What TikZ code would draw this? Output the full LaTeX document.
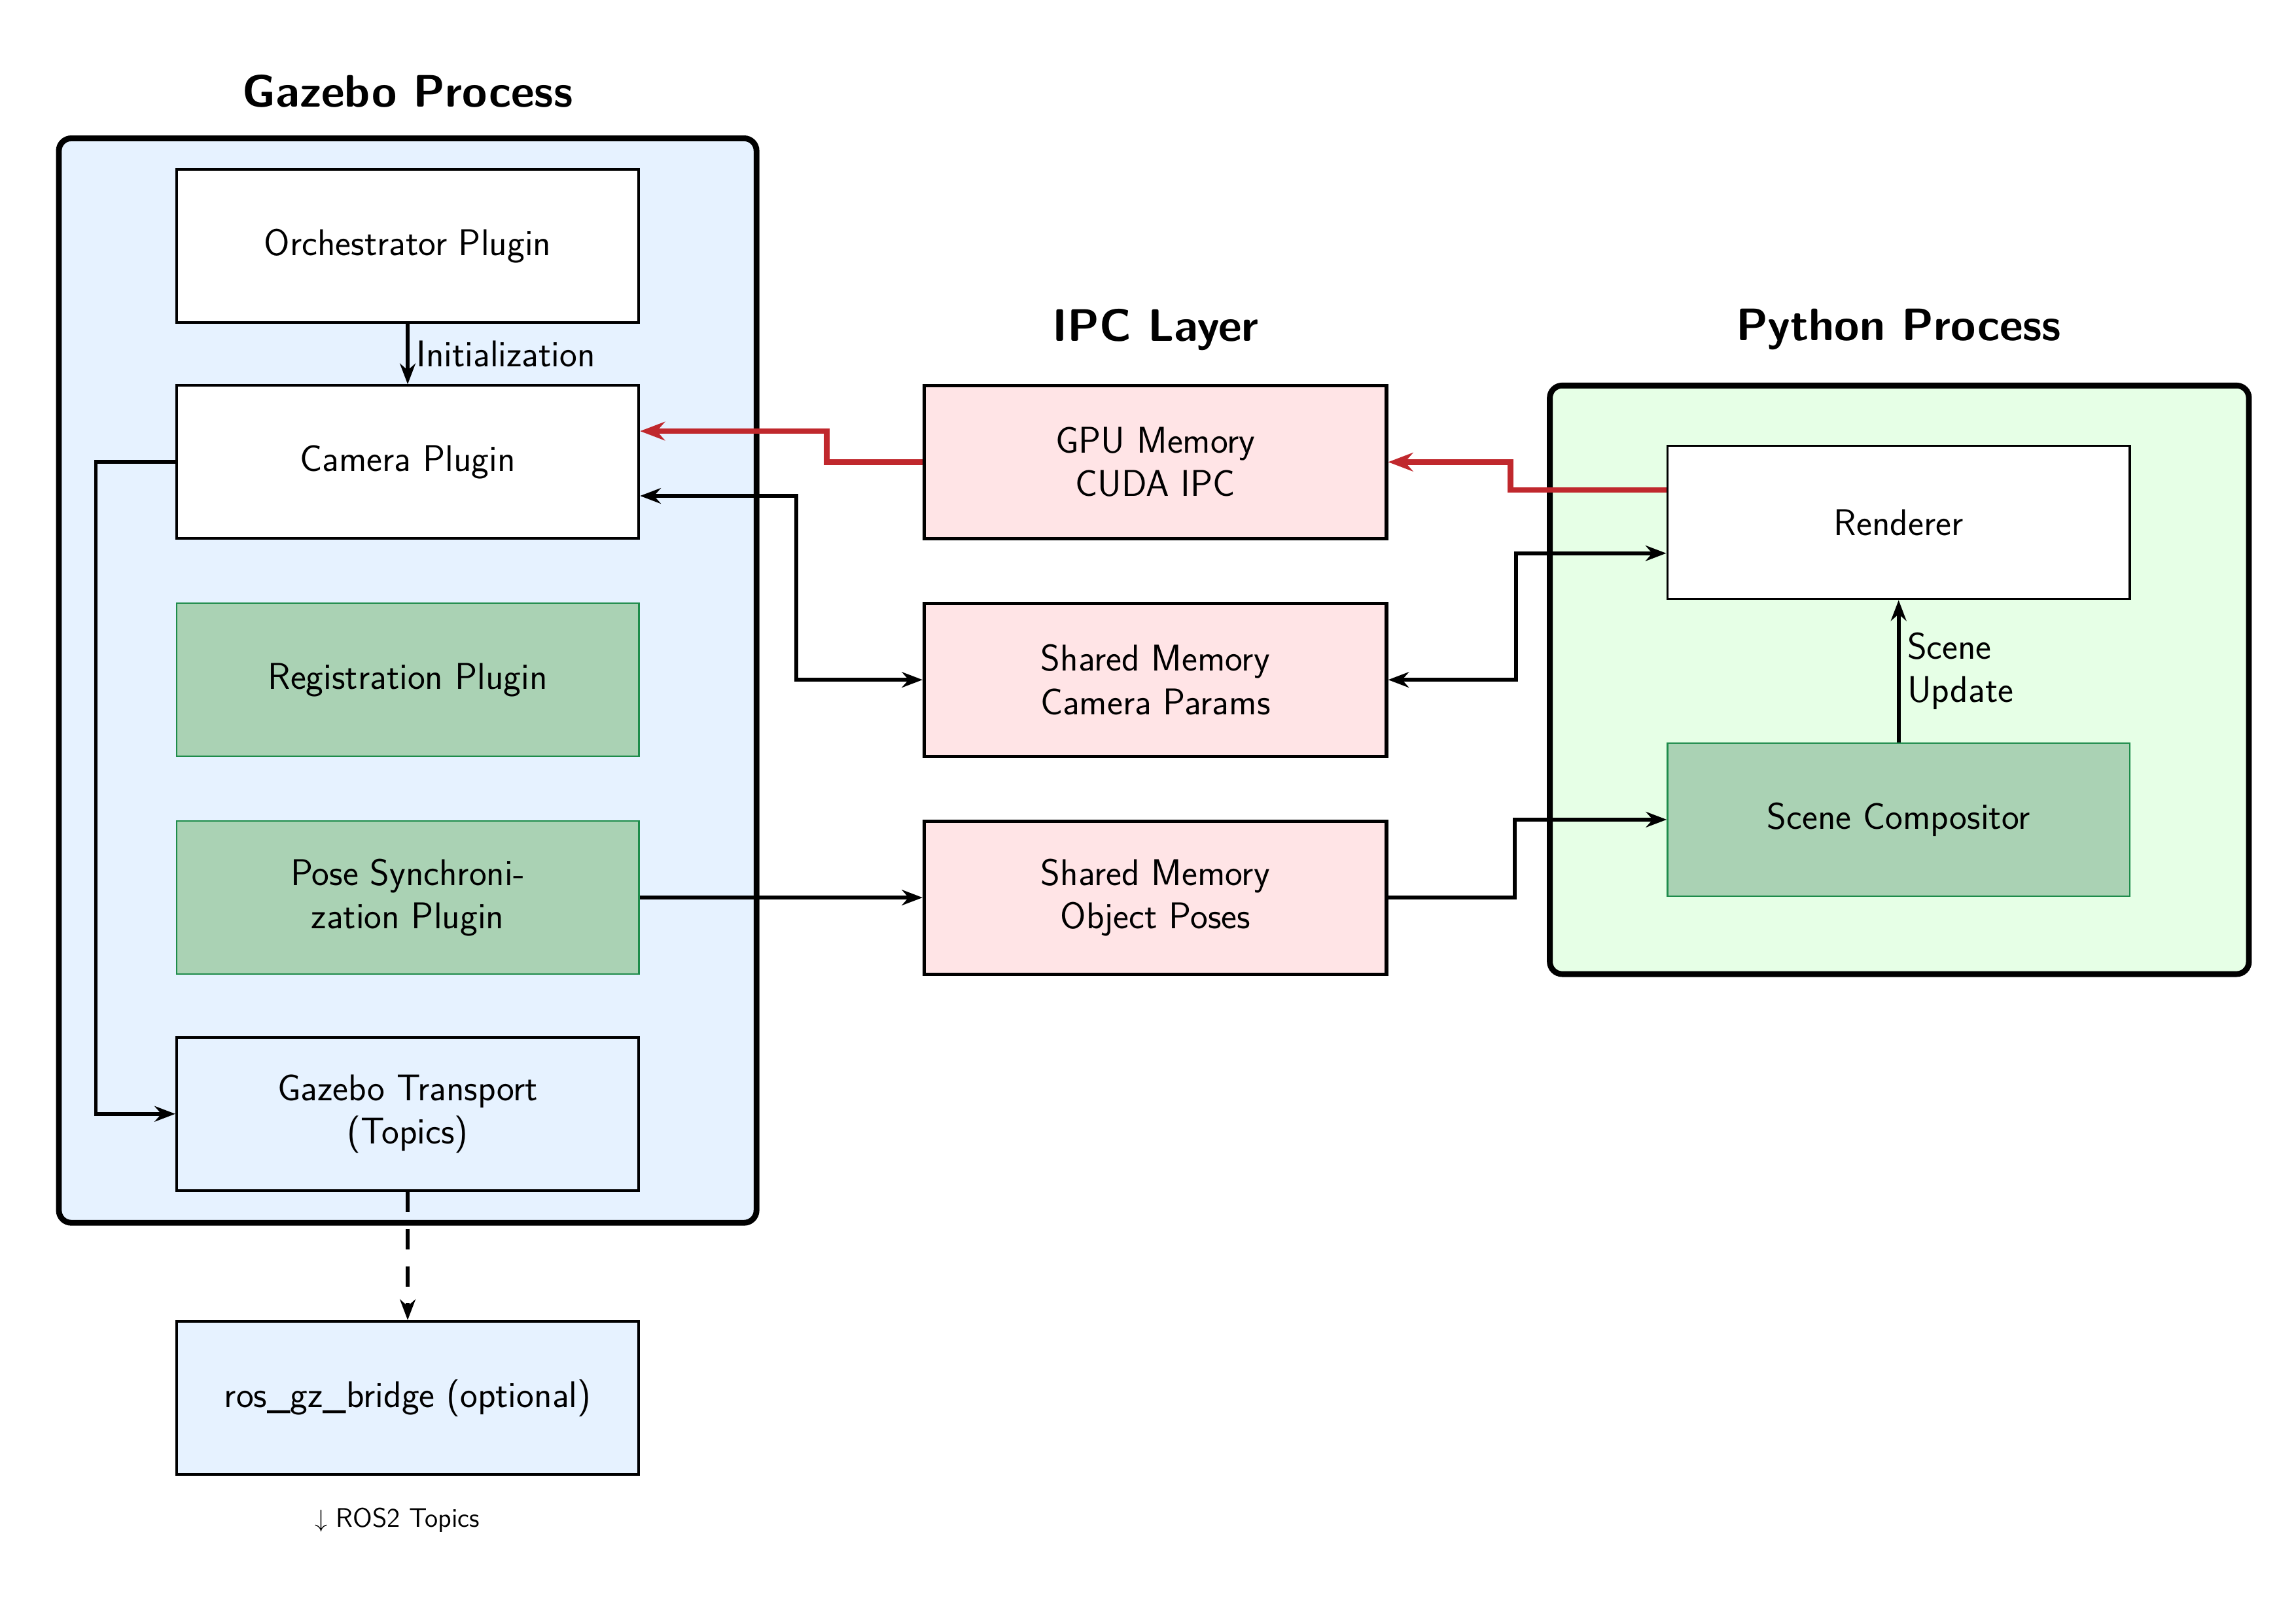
\documentclass[tikz,border=0pt]{standalone}
\usetikzlibrary{arrows.meta}
\definecolor{gzfill}{HTML}{E6F2FF}
\definecolor{pyfill}{HTML}{E6FFE6}
\definecolor{plugfill}{HTML}{AAD2B4}
\definecolor{plugline}{HTML}{1E8C4B}
\definecolor{ipcfill}{HTML}{FFE4E6}
\definecolor{gpured}{HTML}{C0282D}
\tikzset{
  box/.style={draw, line width=1.2pt, minimum width=7.85cm, minimum height=2.6cm,
    align=center, font=\sffamily\fontsize{18}{21}\selectfont},
  plug/.style={box, fill=plugfill, draw=plugline, line width=0.8pt},
  ipc/.style={box, fill=ipcfill, line width=1.6pt},
  frame/.style={draw, line width=2.8pt, rounded corners=6pt},
  title/.style={font=\sffamily\bfseries\fontsize{22}{26}\selectfont},
  link/.style={-{Stealth[length=10pt]}, line width=1.8pt},
  twoway/.style={{Stealth[length=10pt]}-{Stealth[length=10pt]}, line width=1.8pt},
  gpu/.style={-{Stealth[length=12pt]}, line width=2.8pt, gpured}
}
\begin{document}
\begin{tikzpicture}[x=0.025cm,y=-0.025cm]
\useasboundingbox (0,0) rectangle (1560,1090);
% frames
\draw[frame, fill=gzfill] (40,94) rectangle (514,831);
\draw[frame, fill=pyfill] (1053,262) rectangle (1528,662);
\node[title] (gztitle) at (277,62) {Gazebo Process};
\node[title] (ipctitle) at (785,224) {IPC Layer};
\node[title] (pytitle) at (1290,224) {Python Process};
% Gazebo side
\node[box, fill=white] (orch) at (277,167) {Orchestrator Plugin};
\node[box, fill=white] (cam) at (277,314) {Camera Plugin};
\node[plug] (reg) at (277,462) {Registration Plugin};
\node[plug] (pose) at (277,610) {Pose Synchroni-\\zation Plugin};
\node[box, fill=gzfill] (transport) at (277,757) {Gazebo Transport\\(Topics)};
\node[box, fill=gzfill] (bridge) at (277,950) {ros\_gz\_bridge (optional)};
\node[font=\sffamily\fontsize{13}{15}\selectfont] (rostopics) at (270,1033) {$\downarrow$ ROS2 Topics};
% IPC layer
\node[ipc] (gpumem) at (785,314) {GPU Memory\\CUDA IPC};
\node[ipc] (shmcam) at (785,462) {Shared Memory\\Camera Params};
\node[ipc] (shmobj) at (785,610) {Shared Memory\\Object Poses};
% Python side
\node[box, fill=white] (render) at (1290,355) {Renderer};
\node[plug] (compos) at (1290,557) {Scene Compositor};
% connectors
\draw[link] (orch) -- node[right, font=\sffamily\fontsize{18}{21}\selectfont] {Initialization} (cam);
\draw[link] (cam.west) -- ++(-54,0) |- (transport.west);
\draw[gpu] (gpumem.west) -- ++(-65,0) |- ([yshift=0.525cm]cam.east);
\draw[gpu] ([yshift=0.55cm]render.west) -- ++(-106,0) |- (gpumem.east);
\draw[twoway] ([yshift=-0.575cm]cam.east) -- ++(106,0) |- (shmcam.west);
\draw[twoway] ([yshift=-0.525cm]render.west) -- ++(-102,0) |- (shmcam.east);
\draw[link] (pose) -- (shmobj);
\draw[link] (shmobj.east) -- ++(86,0) |- (compos.west);
\draw[link] (compos) -- node[right, align=left, font=\sffamily\fontsize{18}{21}\selectfont] {Scene\\Update} (render);
\draw[link, dashed, dash pattern=on 10pt off 8pt] (transport) -- (bridge);
\end{tikzpicture}
\end{document}
